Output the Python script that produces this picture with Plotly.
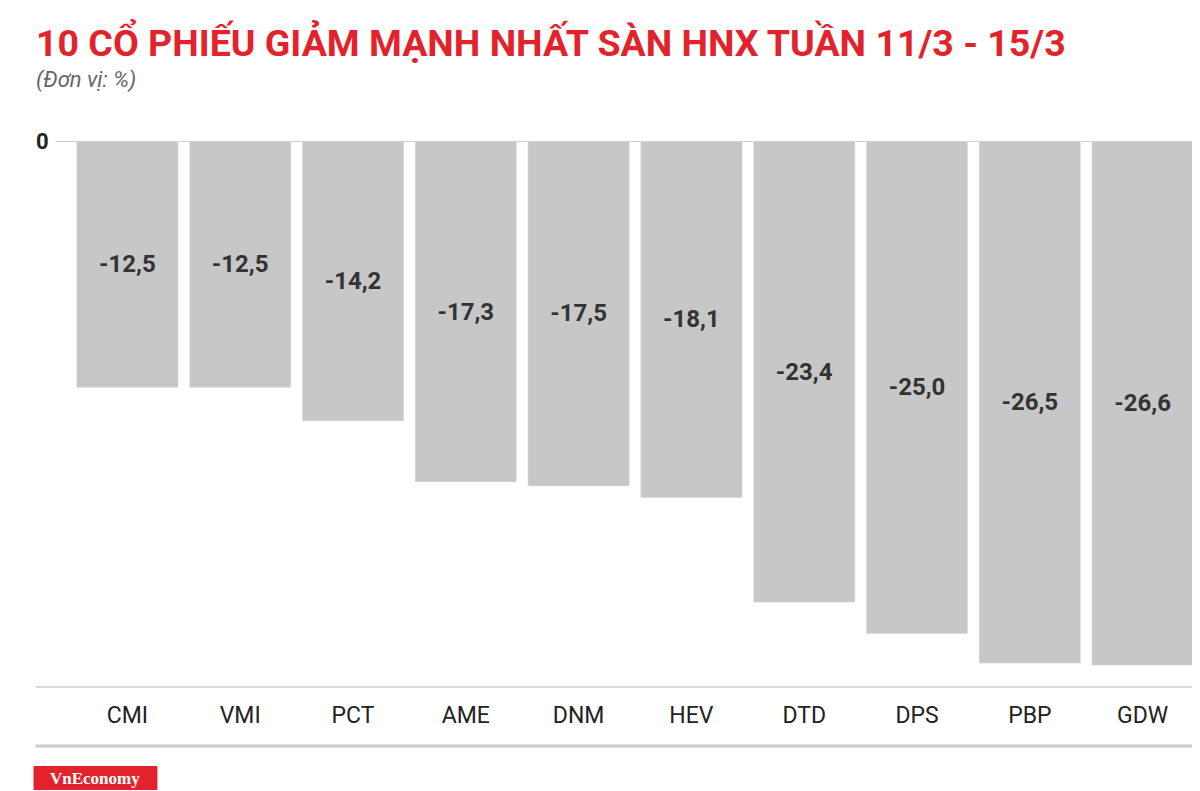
import plotly.graph_objects as go

categories = ["CMI", "VMI", "PCT", "AME", "DNM", "HEV", "DTD", "DPS", "PBP", "GDW"]
values = [-12.5, -12.5, -14.2, -17.3, -17.5, -18.1, -23.4, -25.0, -26.5, -26.6]
labels = [f"{v:.1f}".replace(".", ",") for v in values]

fig = go.Figure(go.Bar(
    x=categories, y=values, text=labels, textposition="inside",
    insidetextanchor="middle", marker_color="#c8c7c8",
    textfont=dict(family="Roboto", size=24, color="#333333", weight="bold"),
    cliponaxis=False,
))
OFF = 8  # page body offset
W, H = 1200 - OFF, 791 - OFF
L, R = 70.5 - OFF, 0.5
T = 141 - OFF
B = H - (687 - OFF)
pw = W - L - R
ph = H - T - B
def px(x):
    return (x - OFF - L) / pw
def py(y):
    return (687 - y) / ph

fig.update_layout(
    width=W, height=H, margin=dict(l=L, r=R, t=T, b=B),
    plot_bgcolor="white", paper_bgcolor="white", bargap=0.1,
    showlegend=False,
    xaxis=dict(showgrid=False, showline=False, ticks="", ticklabelstandoff=12,
               tickfont=dict(family="Roboto", size=23, color="#222"), fixedrange=True),
    yaxis=dict(range=[-27.7, 0], showgrid=False, zeroline=False, showticklabels=False, fixedrange=True),
    shapes=[
        dict(type="line", xref="paper", yref="y", x0=px(55), x1=1, y0=0, y1=0, line=dict(color="#bbbbbb", width=1.5), layer="below"),
        dict(type="line", xref="paper", yref="paper", x0=px(35), x1=1, y0=0, y1=0, line=dict(color="#cccccc", width=1.5)),
        dict(type="line", xref="paper", yref="paper", x0=px(35), x1=1, y0=py(746), y1=py(746), line=dict(color="#cccccc", width=3)),
        dict(type="rect", xref="paper", yref="paper", x0=px(33), x1=px(157), y0=py(790), y1=py(766), fillcolor="#e3232b", line=dict(width=0)),
    ],
    annotations=[
        dict(text="10 CỔ PHIẾU GIẢM MẠNH NHẤT SÀN HNX TUẦN 11/3 - 15/3", xref="paper", yref="paper", x=px(33), y=py(42), xanchor="left", yanchor="middle", showarrow=False,
             font=dict(family="Roboto", size=37.5, color="#e3232b", weight="bold")),
        dict(text="<i>(Đơn vị: %)</i>", xref="paper", yref="paper", x=px(33), y=py(80), xanchor="left", yanchor="middle", showarrow=False,
             font=dict(family="Roboto", size=22, color="#666666")),
        dict(text="<b>0</b>", xref="paper", yref="y", x=px(42), y=0, xanchor="center", yanchor="middle", showarrow=False,
             font=dict(family="Roboto", size=22, color="#222")),
        dict(text="<b>VnEconomy</b>", xref="paper", yref="paper", x=px(95), y=py(778), xanchor="center", yanchor="middle", showarrow=False,
             font=dict(family="Liberation Serif", size=17, color="white")),
    ],
)
fig.write_html("out.html")
